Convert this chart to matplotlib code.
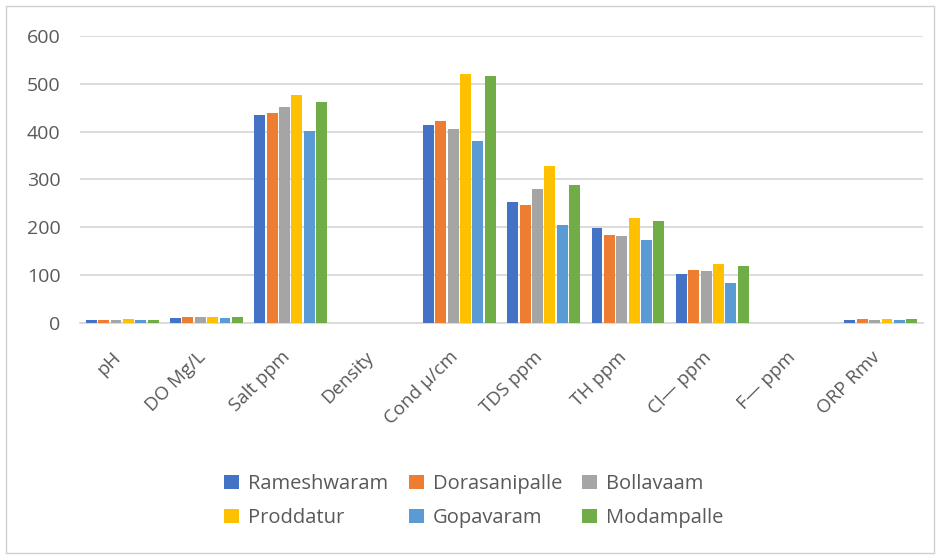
import numpy as np
import matplotlib.pyplot as plt
from matplotlib.patches import Rectangle

# water quality parameters
params = ["pH", "DO Mg/L", "Salt ppm", "Density", "Cond \u03bc/cm", "TDS ppm",
          "TH ppm", "Cl\u2014 ppm", "F\u2014 ppm", "ORP Rmv"]

rameshwaram = [7, 10, 435, 1, 414, 254, 199, 103, 1, 7]
dorasanipalle = [7, 13, 439, 1, 422, 246, 185, 111, 1, 8]
bollavaam = [7, 12, 452, 1, 406, 280, 181, 108, 1, 7]
proddatur = [8, 13, 477, 1, 521, 328, 219, 124, 1, 9]
gopavaram = [7, 10, 402, 1, 380, 204, 174, 84, 1, 6]
modampalle = [7, 12, 461, 1, 517, 289, 213, 120, 1, 8]

series = [("Rameshwaram", rameshwaram), ("Dorasanipalle", dorasanipalle),
          ("Bollavaam", bollavaam), ("Proddatur", proddatur),
          ("Gopavaram", gopavaram), ("Modampalle", modampalle)]
colors = ["#4472C4", "#ED7D31", "#A5A5A5", "#FFC000", "#5B9BD5", "#70AD47"]

plt.rcParams['font.family'] = ['Open Sans', 'DejaVu Sans']

fig = plt.figure(figsize=(9.4, 5.58), dpi=100)
ax = fig.add_axes([80/940, 1-323/558, 843/940, 287/558])

# light frame around the whole chart
fig.patches.append(Rectangle((6/940, 5/558), 928/940, 547/558, transform=fig.transFigure,
                             fill=False, edgecolor="#d0d0d0", linewidth=1))

x = np.arange(len(params))
w = 0.147
handles = []
for i, (name, vals) in enumerate(series):
    b = ax.bar(x + (i - 2.5) * w, vals, width=w * 0.88, color=colors[i], label=name, zorder=3)
    handles.append(b)

ax.set_xlim(-0.5, len(params) - 0.5)
ax.set_ylim(0, 600)
ax.set_yticks(range(0, 601, 100))
ax.yaxis.grid(True, color="#d9d9d9", linewidth=1.3)
ax.set_axisbelow(True)
for s in ["top", "right", "left"]:
    ax.spines[s].set_visible(False)
ax.spines["bottom"].set_color("#d9d9d9")
ax.spines["bottom"].set_linewidth(1.3)
ax.tick_params(length=0, colors="#595959", labelsize=14)
ax.tick_params(axis="y", pad=14)
ax.set_xticks(x - 0.12)
ax.set_xticklabels(params, rotation=45, ha="right", rotation_mode="anchor", fontsize=13.5)
ax.tick_params(axis="x", pad=18)

order = [0, 3, 1, 4, 2, 5]
leg = fig.legend([handles[k] for k in order], [series[k][0] for k in order],
                 ncol=3, loc="center", bbox_to_anchor=(474/940, 1-501/558),
                 frameon=False, fontsize=14.5, handlelength=0.75, handleheight=0.75,
                 handletextpad=0.45, columnspacing=1.0, labelspacing=0.7)
for t in leg.get_texts():
    t.set_color("#595959")

fig.savefig("out.png", dpi=100)
